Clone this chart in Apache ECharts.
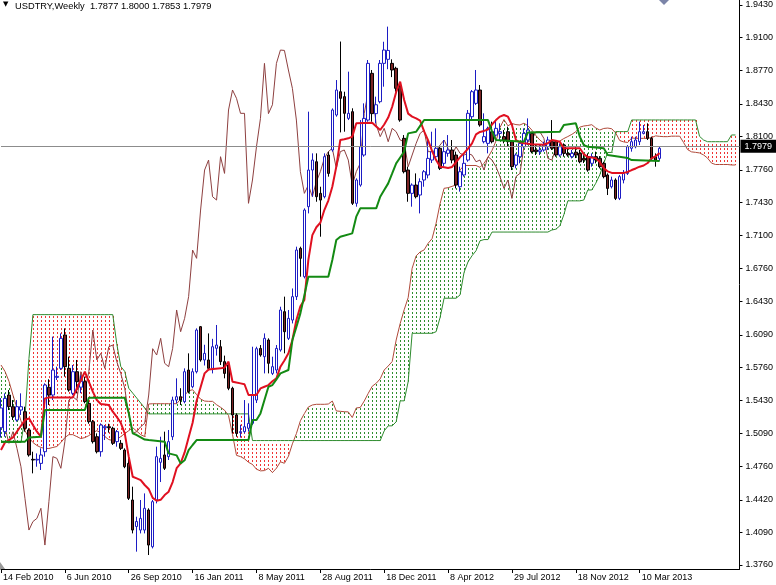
<!DOCTYPE html>
<html><head><meta charset="utf-8">
<script src="https://cdn.jsdelivr.net/npm/echarts@6/dist/echarts.min.js"></script>
<style>html,body{margin:0;padding:0;background:#fff}#c{width:776px;height:585px}</style>
</head><body><div id="c"></div>
<script>
const symbol = 'USDTRY', timeframe = 'Weekly';
const yTicks = [1.3760,1.4090,1.4420,1.4760,1.5090,1.5430,1.5760,1.6090,1.6430,1.6760,1.7100,1.7430,1.7760,1.8100,1.8430,1.8770,1.9100,1.9430];
const xTickLabels = ['14 Feb 2010','6 Jun 2010','26 Sep 2010','16 Jan 2011','8 May 2011','28 Aug 2011','18 Dec 2011','8 Apr 2012','29 Jul 2012','18 Nov 2012','10 Mar 2013'];

const opens = [
1.5150,1.5110,1.5481,1.5363,1.5228,1.5329,1.5312,1.5127,1.4830,1.4823,
1.4789,1.4907,1.5560,1.5481,1.5660,1.5751,1.6089,1.5751,1.5498,1.5717,
1.5560,1.5616,1.5397,1.5211,1.5059,1.4907,1.5150,1.5160,1.5144,1.5009,
1.4992,1.4924,1.4789,1.4418,1.4150,1.4114,1.4114,1.4317,1.3945,1.4418,
1.4800,1.4874,1.4857,1.5059,1.5430,1.5464,1.5414,1.5734,1.5565,1.5717,
1.6173,1.5836,1.5836,1.5751,1.5954,1.5970,1.5819,1.5785,1.5549,1.5279,
1.5100,1.5110,1.5144,1.5194,1.5430,1.5953,1.5869,1.6038,1.5700,1.5734,
1.5937,1.6325,1.6055,1.6240,1.6477,1.6966,1.6679,1.7388,1.7759,1.7843,
1.7523,1.7489,1.7911,1.7962,1.8316,1.8552,1.8502,1.8282,1.8350,1.7422,
1.7607,1.7911,1.8265,1.8738,1.8330,1.8451,1.8839,1.8880,1.8839,1.8789,
1.8603,1.8080,1.7759,1.7523,1.7607,1.7506,1.7658,1.7709,1.7860,1.7894,
1.7979,1.7827,1.7928,1.7962,1.7911,1.7590,1.7709,1.7860,1.8299,1.8434,
1.8569,1.8046,1.8029,1.8147,1.8113,1.8130,1.8097,1.8147,1.8046,1.7810,
1.7894,1.7995,1.8063,1.8130,1.7962,1.7945,1.7962,1.7995,1.8046,1.8046,
1.7911,1.8012,1.7928,1.7894,1.7940,1.7928,1.7877,1.7894,1.7827,1.7894,
1.7877,1.7827,1.7709,1.7590,1.7658,1.7472,1.7658,1.7725,1.7979,1.7995,
1.8046,1.8130,1.8147,1.8080,1.7894,1.7877];
const highs = [
1.5450,1.5498,1.5532,1.5430,1.5430,1.5498,1.5363,1.5144,1.4907,1.4890,
1.4941,1.5599,1.5640,1.6072,1.5768,1.6105,1.6156,1.5869,1.5785,1.5836,
1.5680,1.5667,1.5430,1.5228,1.5093,1.5194,1.5177,1.5190,1.5160,1.5127,
1.5025,1.4941,1.4857,1.4553,1.4249,1.4418,1.4485,1.4334,1.4418,1.4958,
1.5059,1.5110,1.5127,1.5464,1.5650,1.5550,1.5751,1.5903,1.5751,1.6156,
1.6180,1.5990,1.6105,1.6050,1.6190,1.6038,1.5880,1.5800,1.5565,1.5296,
1.5180,1.5430,1.5397,1.5970,1.5970,1.5987,1.6105,1.6055,1.5869,1.5987,
1.6375,1.6477,1.6342,1.6560,1.6983,1.6983,1.7371,1.8350,1.7928,1.7928,
1.7590,1.7928,1.7945,1.8383,1.8670,1.9060,1.8552,1.8755,1.8384,1.7675,
1.8265,1.8434,1.8873,1.8772,1.8502,1.8873,1.9058,1.9211,1.8880,1.8805,
1.8637,1.8113,1.7793,1.7624,1.7725,1.7675,1.7759,1.8080,1.8147,1.8181,
1.7995,1.8063,1.8113,1.8063,1.7945,1.7793,1.7928,1.8367,1.8569,1.8772,
1.8620,1.8333,1.8198,1.8249,1.8265,1.8232,1.8164,1.8198,1.8063,1.7928,
1.8046,1.8181,1.8282,1.8147,1.8012,1.8012,1.8046,1.8097,1.8265,1.8063,
1.8029,1.8029,1.7979,1.7962,1.7990,1.7962,1.7910,1.7928,1.7928,1.7945,
1.7900,1.7843,1.7725,1.7692,1.7675,1.7709,1.7759,1.8012,1.8097,1.8097,
1.8249,1.8215,1.8232,1.8097,1.7928,1.8000];
const lows = [
1.5050,1.5059,1.5329,1.5228,1.5211,1.5279,1.5110,1.4857,1.4688,1.4755,
1.4722,1.4857,1.5380,1.5430,1.5633,1.5734,1.5667,1.5515,1.5481,1.5498,
1.5500,1.5397,1.5190,1.4990,1.4890,1.4857,1.5025,1.5100,1.4975,1.4958,
1.4924,1.4740,1.4418,1.4080,1.3895,1.4080,1.4080,1.3861,1.3928,1.4384,
1.4600,1.4722,1.4823,1.5025,1.5397,1.5380,1.5397,1.5498,1.5549,1.5700,
1.5819,1.5780,1.5740,1.5700,1.5880,1.5785,1.5650,1.5530,1.5093,1.5059,
1.5050,1.5093,1.5110,1.5177,1.5400,1.5869,1.5700,1.5700,1.5683,1.5700,
1.5920,1.5903,1.6038,1.6206,1.6443,1.6679,1.6662,1.7320,1.7489,1.7438,
1.7084,1.7472,1.7692,1.7945,1.8299,1.8140,1.8147,1.8265,1.7405,1.7388,
1.7590,1.7894,1.8248,1.8248,1.8232,1.8434,1.8603,1.8780,1.8700,1.8552,
1.8248,1.7725,1.7438,1.7388,1.7472,1.7320,1.7590,1.7675,1.7830,1.7880,
1.7759,1.7793,1.7894,1.7827,1.7573,1.7540,1.7692,1.7843,1.8265,1.8417,
1.8198,1.8029,1.7928,1.8029,1.8097,1.8063,1.8029,1.7995,1.7759,1.7776,
1.7827,1.7979,1.8012,1.7928,1.7911,1.7911,1.7945,1.7962,1.7962,1.7894,
1.7894,1.7894,1.7894,1.7877,1.7880,1.7827,1.7830,1.7742,1.7793,1.7827,
1.7776,1.7675,1.7506,1.7573,1.7455,1.7455,1.7624,1.7709,1.7945,1.7979,
1.8012,1.8120,1.8063,1.7860,1.7793,1.7853];
const closes = [
1.5350,1.5447,1.5363,1.5262,1.5363,1.5363,1.5144,1.4874,1.4823,1.4830,
1.4874,1.5582,1.5480,1.5734,1.5670,1.6055,1.5768,1.5532,1.5717,1.5616,
1.5620,1.5414,1.5211,1.5009,1.4907,1.5177,1.5160,1.5150,1.4992,1.5110,
1.4941,1.4755,1.4435,1.4114,1.4200,1.4232,1.4334,1.3962,1.4401,1.4857,
1.4840,1.4739,1.5009,1.5430,1.5464,1.5430,1.5717,1.5515,1.5717,1.6139,
1.5836,1.5903,1.5751,1.5970,1.5987,1.5819,1.5700,1.5549,1.5279,1.5093,
1.5110,1.5160,1.5194,1.5481,1.5950,1.5886,1.6055,1.5802,1.5768,1.5953,
1.6342,1.6122,1.6257,1.6477,1.6949,1.6865,1.7354,1.7759,1.7860,1.7489,
1.7455,1.7894,1.7725,1.8367,1.8569,1.8485,1.8333,1.8333,1.7422,1.7658,
1.7995,1.8282,1.8839,1.8330,1.8420,1.8839,1.8974,1.8970,1.8772,1.8586,
1.8265,1.7742,1.7523,1.7607,1.7489,1.7641,1.7742,1.7877,1.7945,1.7979,
1.7776,1.7945,1.7962,1.7860,1.7607,1.7742,1.7827,1.8333,1.8552,1.8569,
1.8215,1.8097,1.8181,1.8046,1.8181,1.8147,1.8063,1.8046,1.7793,1.7911,
1.8029,1.8130,1.8164,1.7945,1.7945,1.7962,1.8012,1.8063,1.7979,1.7911,
1.7995,1.7928,1.7911,1.7928,1.7910,1.7843,1.7860,1.7759,1.7894,1.7860,
1.7793,1.7692,1.7573,1.7658,1.7472,1.7692,1.7725,1.7995,1.8046,1.8063,
1.8147,1.8147,1.8080,1.7877,1.7860,1.7979];

const tenkanPts = [[0,1.4924],[1,1.5000],[3,1.5052],[5,1.5170],[6,1.5228],[7,1.5245],[8,1.5177],[9,1.5110],[10,1.5059],[11,1.5447],[12,1.5457],[18,1.5457],[19,1.5549],[20,1.5630],[21,1.5717],[22,1.5616],[23,1.5515],[24,1.5430],[25,1.5390],[27,1.5380],[28,1.5312],[29,1.5260],[30,1.5200],[31,1.5093],[32,1.4857],[33,1.4654],[34,1.4637],[35,1.4620],[36,1.4570],[37,1.4530],[38,1.4440],[39,1.4410],[40,1.4420],[41,1.4468],[42,1.4502],[43,1.4600],[44,1.4740],[45,1.4790],[46,1.4900],[47,1.5050],[48,1.5200],[49,1.5420],[50,1.5560],[51,1.5700],[52,1.5740],[55,1.5751],[56,1.5760],[57,1.5819],[58,1.5616],[59,1.5607],[60,1.5599],[61,1.5590],[62,1.5481],[64,1.5481],[65,1.5548],[66,1.5565],[67,1.5582],[68,1.5620],[69,1.5650],[70,1.5768],[71,1.5830],[72,1.5903],[73,1.6038],[74,1.6240],[75,1.6380],[76,1.6443],[77,1.6850],[78,1.7100],[79,1.7180],[80,1.7225],[81,1.7354],[82,1.7450],[83,1.7590],[84,1.7793],[85,1.8063],[86,1.8070],[87,1.8080],[88,1.8097],[89,1.8232],[93,1.8238],[94,1.8200],[95,1.8164],[96,1.8220],[97,1.8290],[98,1.8400],[99,1.8550],[100,1.8654],[101,1.8468],[102,1.8330],[103,1.8300],[104,1.8282],[105,1.8260],[106,1.8150],[107,1.8060],[108,1.7950],[109,1.7860],[110,1.7793],[111,1.7788],[112,1.7780],[113,1.7790],[114,1.7840],[115,1.7890],[116,1.7930],[117,1.7975],[118,1.8029],[119,1.8120],[120,1.8145],[121,1.8155],[122,1.8170],[123,1.8220],[124,1.8265],[125,1.8300],[126,1.8316],[127,1.8299],[128,1.8215],[129,1.8063],[130,1.8040],[131,1.8029],[132,1.8025],[133,1.8020],[136,1.8015],[137,1.8030],[138,1.8063],[139,1.8055],[140,1.8046],[141,1.7979],[145,1.7979],[146,1.7920],[147,1.7890],[148,1.7885],[149,1.7877],[150,1.7840],[151,1.7780],[152,1.7745],[153,1.7730],[156,1.7730],[157,1.7740],[158,1.7759],[159,1.7775],[160,1.7793],[161,1.7805],[162,1.7830],[163,1.7877],[164,1.7900],[165,1.7930]];

const kijunPts = [[0,1.5009],[6,1.5009],[7,1.5050],[10,1.5059],[11,1.5329],[21,1.5329],[22,1.5454],[31,1.5454],[32,1.5300],[33,1.5093],[34,1.5076],[36,1.5030],[37,1.5025],[41,1.5009],[42,1.4890],[43,1.4880],[44,1.4870],[45,1.4789],[46,1.4820],[47,1.4924],[48,1.4975],[49,1.5025],[62,1.5025],[63,1.5228],[64,1.5228],[65,1.5295],[66,1.5430],[67,1.5565],[68,1.5582],[69,1.5640],[70,1.5700],[72,1.5734],[73,1.6038],[74,1.6170],[75,1.6308],[76,1.6490],[77,1.6679],[82,1.6679],[83,1.6848],[84,1.7051],[85,1.7084],[88,1.7118],[89,1.7287],[90,1.7371],[94,1.7371],[95,1.7489],[96,1.7556],[97,1.7624],[98,1.7725],[99,1.7827],[100,1.7886],[101,1.7945],[102,1.8130],[104,1.8147],[105,1.8206],[106,1.8265],[122,1.8265],[123,1.8150],[124,1.8063],[131,1.8046],[132,1.8140],[140,1.8147],[141,1.8215],[144,1.8232],[145,1.8097],[146,1.8012],[147,1.7995],[151,1.7979],[152,1.7912],[157,1.7880],[158,1.7860],[165,1.7850]];

const senkouA = [
1.5785,1.5720,1.5620,1.5480,1.5350,1.5220,1.5120,1.5050,1.5000,1.4970,
1.4950,1.4940,1.4940,1.4950,1.4960,1.5000,1.5050,1.5080,1.5080,1.5060,
1.5040,1.5050,1.5070,1.5100,1.5120,1.5100,1.5060,1.5030,1.5020,1.5030,
1.5060,1.5090,1.5120,1.5150,1.5115,1.5080,1.5060,1.5390,1.5393,1.5393,
1.5393,1.5393,1.5393,1.5393,1.5393,1.5439,1.5480,1.5523,1.5535,1.5485,
1.5440,1.5420,1.5417,1.5417,1.5383,1.5357,1.5327,1.5274,1.5080,1.4870,
1.4857,1.4835,1.4800,1.4778,1.4730,1.4713,1.4716,1.4739,1.4696,1.4740,
1.4805,1.4790,1.4860,1.4987,1.5090,1.5220,1.5293,1.5360,1.5380,1.5387,
1.5387,1.5387,1.5390,1.5420,1.5320,1.5316,1.5312,1.5310,1.5253,1.5350,
1.5355,1.5420,1.5498,1.5570,1.5600,1.5645,1.5734,1.5775,1.5820,1.6038,
1.6205,1.6344,1.6467,1.6765,1.6890,1.6930,1.6950,1.7017,1.7065,1.7220,
1.7420,1.7574,1.7580,1.7594,1.7608,1.7760,1.7805,1.7805,1.7805,1.7805,
1.7786,1.7827,1.7888,1.7957,1.8053,1.8189,1.8270,1.8207,1.8230,1.8219,
1.8215,1.8233,1.8208,1.8163,1.8108,1.8063,1.8029,1.8027,1.8023,1.8028,
1.8053,1.8078,1.8098,1.8120,1.8147,1.8193,1.8205,1.8210,1.8218,1.8185,
1.8164,1.8180,1.8184,1.8177,1.8134,1.8057,1.8044,1.8038,1.8083,1.8080,
1.8080,1.8080,1.8080,1.8088,1.8105,1.8100,1.8097,1.8097,1.8102,1.8102,
1.8102,1.8038,1.7966,1.7943,1.7938,1.7932,1.7912,1.7880,1.7829,1.7815,
1.7815,1.7815,1.7815,1.7810,1.7810];
const senkouB = [
1.5000,1.5000,1.5000,1.5000,1.5000,1.5000,1.5250,1.5850,1.6295,1.6295,
1.6295,1.6295,1.6295,1.6295,1.6295,1.6295,1.6295,1.6295,1.6295,1.6295,
1.6295,1.6295,1.6295,1.6295,1.6295,1.6295,1.6295,1.6295,1.6295,1.6000,
1.5770,1.5720,1.5550,1.5500,1.5450,1.5400,1.5350,1.5290,1.5290,1.5290,
1.5290,1.5290,1.5290,1.5290,1.5290,1.5290,1.5290,1.5290,1.5290,1.5290,
1.5290,1.5290,1.5290,1.5290,1.5290,1.5290,1.5290,1.5290,1.5290,1.5290,
1.5290,1.5290,1.5290,1.5020,1.5020,1.5020,1.5020,1.5020,1.5020,1.5020,
1.5020,1.5020,1.5020,1.5020,1.5020,1.5020,1.5020,1.5020,1.5020,1.5020,
1.5020,1.5020,1.5020,1.5020,1.5020,1.5020,1.5020,1.5020,1.5020,1.5020,
1.5020,1.5020,1.5020,1.5020,1.5020,1.5020,1.5118,1.5169,1.5169,1.5210,
1.5422,1.5422,1.5616,1.6106,1.6106,1.6106,1.6106,1.6106,1.6106,1.6122,
1.6266,1.6461,1.6461,1.6461,1.6461,1.6494,1.6722,1.6830,1.6891,1.6942,
1.7043,1.7055,1.7055,1.7131,1.7131,1.7131,1.7131,1.7131,1.7131,1.7131,
1.7131,1.7131,1.7131,1.7131,1.7131,1.7131,1.7131,1.7131,1.7152,1.7160,
1.7194,1.7306,1.7447,1.7447,1.7447,1.7447,1.7455,1.7557,1.7557,1.7625,
1.7709,1.7827,1.7937,1.7937,1.8148,1.8148,1.8148,1.8148,1.8266,1.8266,
1.8266,1.8266,1.8266,1.8266,1.8266,1.8266,1.8266,1.8266,1.8266,1.8266,
1.8266,1.8266,1.8266,1.8266,1.8266,1.8100,1.8063,1.8046,1.8046,1.8046,
1.8046,1.8046,1.8046,1.8114,1.8114];

const chikouShift = 26;
const barCount = 186;
const monthNames = ['Jan','Feb','Mar','Apr','May','Jun','Jul','Aug','Sep','Oct','Nov','Dec'];
const categories = [];
const t0 = Date.UTC(2010, 1, 14);
for (let i = 0; i < barCount; i++) {
  const d = new Date(t0 + i * 7 * 86400000);
  categories.push(d.getUTCDate() + ' ' + monthNames[d.getUTCMonth()] + ' ' + d.getUTCFullYear());
}
const showTick = (idx, val) => xTickLabels.indexOf(val) >= 0;

const candles = opens.map((o, i) => [o, closes[i], lows[i], highs[i]]);
const chikou = [];
closes.forEach((c, i) => { if (i - chikouShift >= 0) chikou.push([i - chikouShift, c]); });
const cloud = senkouA.map((a, i) => [i, a, senkouB[i]]);
const last = opens.length - 1;
const fmt = v => v.toFixed(4);

const FONT = 'Liberation Sans';
const chart = echarts.init(document.getElementById('c'));
chart.setOption({
  animation: false,
  backgroundColor: '#ffffff',
  grid: { left: 0, right: 35, top: 0, bottom: 16 },
  xAxis: {
    type: 'category', data: categories, boundaryGap: false,
    axisLine: { lineStyle: { color: '#000', width: 1 } },
    axisTick: { interval: showTick, length: 4, lineStyle: { color: '#000' } },
    axisLabel: { interval: showTick, align: 'left', color: '#000', fontSize: 9, fontFamily: FONT, margin: 4, padding: [0, 0, 0, 2] },
    splitLine: { show: false }
  },
  yAxis: {
    type: 'value', position: 'right', min: 1.37195, max: 1.94806,
    axisLine: { show: true, lineStyle: { color: '#000', width: 1 } },
    axisTick: { show: true, customValues: yTicks, length: 3, lineStyle: { color: '#000' } },
    axisLabel: { customValues: yTicks, formatter: fmt, color: '#000', fontSize: 9, fontFamily: FONT, margin: 6 },
    splitLine: { show: false }
  },
  series: [
    {
      type: 'custom', name: 'kumo', data: cloud, z: 1, clip: true,
      encode: { x: 0, y: [1, 2] },
      renderItem: function (params, api) {
        const i = api.value(0), a = api.value(1), b = api.value(2);
        const p1 = api.coord([i, a]), p2 = api.coord([i, b]);
        const x = Math.round(p1[0]);
        const yTop = Math.min(p1[1], p2[1]);
        const yBot = Math.max(p1[1], p2[1]);
        const fill = a >= b ? '#2f8f2f' : '#f03434';
        const kids = [];
        for (let y = Math.ceil(yTop / 4) * 4; y < yBot; y += 4) {
          kids.push({ type: 'rect', shape: { x: x, y: y, width: 1, height: Math.min(2, yBot - y) }, style: { fill: fill } });
        }
        return { type: 'group', children: kids };
      }
    },
    { type: 'line', name: 'Senkou A', data: senkouA, z: 2, showSymbol: false, symbol: 'none',
      lineStyle: { color: '#b04a3a', width: 1 } },
    { type: 'line', name: 'Senkou B', data: senkouB, z: 2, showSymbol: false, symbol: 'none',
      lineStyle: { color: '#2e8b2e', width: 1 } },
    { type: 'line', name: 'Chikou', data: chikou, z: 3, showSymbol: false, symbol: 'none',
      lineStyle: { color: '#8e4040', width: 1 } },
    {
      type: 'candlestick', name: symbol, data: candles, z: 4, barWidth: 3,
      itemStyle: { color: '#ffffff', color0: '#7a2424', borderColor: '#1c1cc4', borderColor0: '#000000', borderWidth: 1 },
      markLine: {
        silent: true, symbol: ['none', 'none'], animation: false,
        lineStyle: { color: '#8c8c8c', width: 1, type: 'solid' },
        label: { show: true, position: 'end', formatter: fmt(closes[last]), color: '#fff', backgroundColor: '#000',
          fontSize: 9, fontFamily: FONT, padding: [2, 4, 2, 4], distance: 1 },
        data: [{ yAxis: closes[last] }]
      }
    },
    { type: 'line', name: 'Tenkan', data: tenkanPts, z: 5, showSymbol: false, symbol: 'none',
      lineStyle: { color: '#e01020', width: 2 } },
    { type: 'line', name: 'Kijun', data: kijunPts, z: 6, showSymbol: false, symbol: 'none',
      lineStyle: { color: '#138a13', width: 2 } }
  ],
  graphic: [
    { type: 'text', left: 3, top: 1, style: { text: '▼', font: '7px DejaVu Sans', fill: '#000' } },
    { type: 'text', left: 15, top: 2, style: { text: symbol + ',' + timeframe + '  ' + [opens[last], highs[last], lows[last], closes[last]].map(fmt).join(' '), font: '9.3px ' + FONT, fill: '#000' } },
    { type: 'polygon', shape: { points: [[659, 0], [669, 0], [664, 5]] }, style: { fill: '#7b84a8' } },
    { type: 'polygon', shape: { points: [[0, 562], [0, 569], [5, 569]] }, style: { fill: '#9a9a9a' } }
  ]
});
</script></body></html>
